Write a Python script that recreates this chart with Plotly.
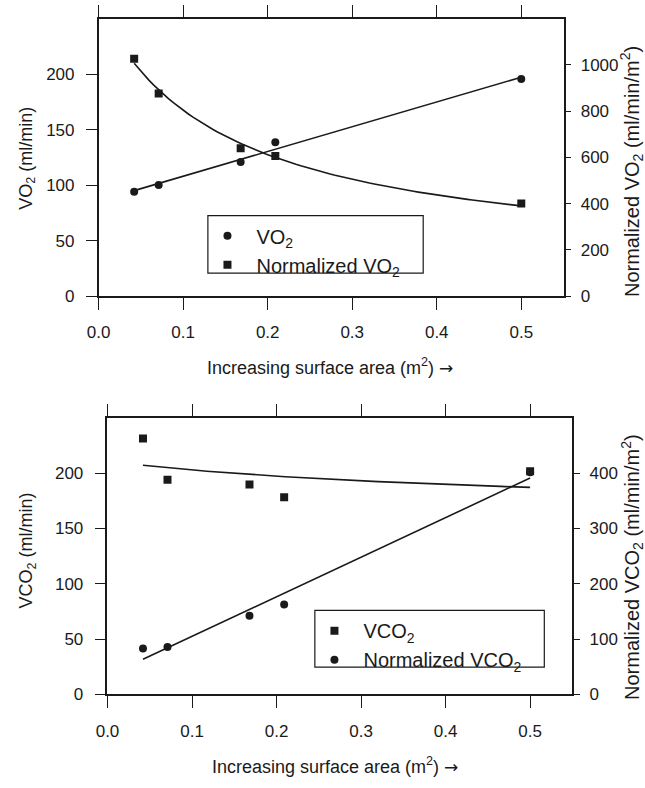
import numpy as np
import plotly.graph_objects as go

# ---------------- data ----------------
area = [0.042, 0.071, 0.168, 0.209, 0.5]          # surface area (m^2)
vo2 = [94.2, 100.1, 120.9, 138.7, 195.8]           # VO2 (ml/min)
vo2_norm = [1027, 877, 640, 606, 401]              # normalized VO2 (ml/min/m^2)
vco2 = [231.3, 194.0, 189.8, 178.2, 201.8]         # VCO2 (ml/min)
vco2_norm = [83.2, 85.7, 142.1, 162.5, 401.8]      # normalized VCO2 (ml/min/m^2)
x_ticks = [0.0, 0.1, 0.2, 0.3, 0.4, 0.5]
y_left_ticks = [0, 50, 100, 150, 200]
y_right_top_ticks = [0, 200, 400, 600, 800, 1000]
y_right_bot_ticks = [0, 100, 200, 300, 400]

W, H = 645, 788
INK = "#1a1a1a"
FONT = "Liberation Sans, Arial, sans-serif"


def px(x):
    return x / W


def py(y):
    return 1 - y / H


xa = np.array(area)
xs = np.linspace(xa.min(), xa.max(), 80)


def hyper_fit(x, y, d, xe):
    """least-squares fit of y = c + A/(x+d)"""
    u = 1.0 / (np.asarray(x) + d)
    A, c = np.polyfit(u, np.asarray(y, dtype=float), 1)
    return c + A / (xe + d)


fit_vo2 = np.polyval(np.polyfit(xa, np.array(vo2), 1), xs)
fit_vo2n = hyper_fit(xa, vo2_norm, 0.15, xs)
fit_vco2 = hyper_fit(xa, vco2, 0.5, xs)
fit_vco2n = np.polyval(np.polyfit(xa, np.array(vco2_norm), 1), xs)

fig = go.Figure()

mk_c = dict(symbol="circle", size=8, color=INK)
mk_s = dict(symbol="square", size=8, color=INK)
ln = dict(color=INK, width=1.6)

# ---- top panel ----
fig.add_trace(go.Scatter(x=xs, y=fit_vo2, mode="lines", line=ln, xaxis="x", yaxis="y",
                         showlegend=False, hoverinfo="skip"))
fig.add_trace(go.Scatter(x=xs, y=fit_vo2n, mode="lines", line=ln, xaxis="x", yaxis="y2",
                         showlegend=False, hoverinfo="skip"))
fig.add_trace(go.Scatter(x=area, y=vo2, mode="markers", marker=mk_c, name="VO<sub>2</sub>",
                         xaxis="x", yaxis="y", legend="legend"))
fig.add_trace(go.Scatter(x=area, y=vo2_norm, mode="markers", marker=mk_s, name="Normalized VO<sub>2</sub>",
                         xaxis="x", yaxis="y2", legend="legend"))

# ---- bottom panel ----
fig.add_trace(go.Scatter(x=xs, y=fit_vco2, mode="lines", line=ln, xaxis="x2", yaxis="y3",
                         showlegend=False, hoverinfo="skip"))
fig.add_trace(go.Scatter(x=xs, y=fit_vco2n, mode="lines", line=ln, xaxis="x2", yaxis="y4",
                         showlegend=False, hoverinfo="skip"))
fig.add_trace(go.Scatter(x=area, y=vco2, mode="markers", marker=mk_s, name="VCO<sub>2</sub>",
                         xaxis="x2", yaxis="y3", legend="legend2"))
fig.add_trace(go.Scatter(x=area, y=vco2_norm, mode="markers", marker=mk_c, name="Normalized VCO<sub>2</sub>",
                         xaxis="x2", yaxis="y4", legend="legend2"))

tickfont = dict(family=FONT, size=17, color=INK)
common_x = dict(range=[0, 0.55], tickvals=x_ticks, tickformat=".1f", ticks="outside", ticklen=12,
                tickwidth=1.3, tickcolor=INK, showline=True, linecolor=INK, linewidth=1.5,
                mirror="ticks", showgrid=False, zeroline=False, tickfont=tickfont,
                ticklabelstandoff=8)
common_yl = dict(tickvals=y_left_ticks, ticks="outside", ticklen=11, tickwidth=1.3, tickcolor=INK,
                 showline=True, linecolor=INK, linewidth=1.5, showgrid=False, zeroline=False,
                 tickfont=tickfont, ticklabelstandoff=8)
common_yr = dict(ticks="outside", ticklen=6, tickwidth=1.3, tickcolor=INK, side="right",
                 showline=True, linecolor=INK, linewidth=1.5, showgrid=False, zeroline=False,
                 tickfont=tickfont, ticklabelstandoff=6)

top_x = [px(88.3), px(562)]
top_y = [py(300), py(19)]
bot_x = [px(97.3), px(571)]
bot_y = [py(703.3), py(423.3)]

legend_font = dict(family=FONT, size=20, color=INK)

fig.update_layout(
    width=W, height=H,
    margin=dict(l=0, r=0, t=0, b=0),
    paper_bgcolor="white", plot_bgcolor="white",
    font=dict(family=FONT, color=INK),
    xaxis=dict(domain=top_x, anchor="y", **common_x),
    yaxis=dict(domain=top_y, anchor="x", range=[0, 250], **common_yl),
    yaxis2=dict(overlaying="y", anchor="x", range=[0, 1200], tickvals=y_right_top_ticks, **common_yr),
    xaxis2=dict(domain=bot_x, anchor="y3", **common_x),
    yaxis3=dict(domain=bot_y, anchor="x2", range=[0, 250], **common_yl),
    yaxis4=dict(overlaying="y3", anchor="x2", range=[0, 500], tickvals=y_right_bot_ticks, **common_yr),
    legend=dict(x=px(190), y=py(219), xanchor="left", yanchor="top", bgcolor="rgba(0,0,0,0)",
                borderwidth=0, font=legend_font, tracegroupgap=0, itemsizing="trace", itemwidth=48),
    legend2=dict(x=px(299), y=py(619), xanchor="left", yanchor="top", bgcolor="rgba(0,0,0,0)",
                 borderwidth=0, font=legend_font, tracegroupgap=0, itemsizing="trace", itemwidth=48),
    shapes=[
        dict(type="rect", xref="paper", yref="paper", x0=px(199.6), x1=px(419), y0=py(276.7), y1=py(218.3),
             line=dict(color=INK, width=1.2), fillcolor="rgba(0,0,0,0)"),
        dict(type="rect", xref="paper", yref="paper", x0=px(308.6), x1=px(542.4), y0=py(675.7), y1=py(618.3),
             line=dict(color=INK, width=1.2), fillcolor="rgba(0,0,0,0)"),
    ],
)

left_font = dict(family=FONT, size=18, color=INK)
right_font = dict(family=FONT, size=20, color=INK)
arrow = '<span style="font-family:DejaVu Sans;font-size:17px">\u2192</span>'
annots = [
    dict(text="VO<sub>2</sub> (ml/min)", x=px(16), y=py(160), textangle=-90, font=left_font),
    dict(text="Normalized VO<sub>2</sub> (ml/min/m<sup>2</sup>)", x=px(632), y=py(174), textangle=-90,
         font=right_font),
    dict(text="Increasing surface area (m<sup>2</sup>) " + arrow, x=px(324), y=py(371), textangle=0,
         font=left_font),
    dict(text="VCO<sub>2</sub> (ml/min)", x=px(16), y=py(558), textangle=-90, font=left_font),
    dict(text="Normalized VCO<sub>2</sub> (ml/min/m<sup>2</sup>)", x=px(632), y=py(574), textangle=-90,
         font=right_font),
    dict(text="Increasing surface area (m<sup>2</sup>) " + arrow, x=px(329), y=py(775), textangle=0,
         font=left_font),
]
for a in annots:
    fig.add_annotation(xref="paper", yref="paper", showarrow=False, xanchor="center", yanchor="middle", **a)

fig.write_html("out.html")
